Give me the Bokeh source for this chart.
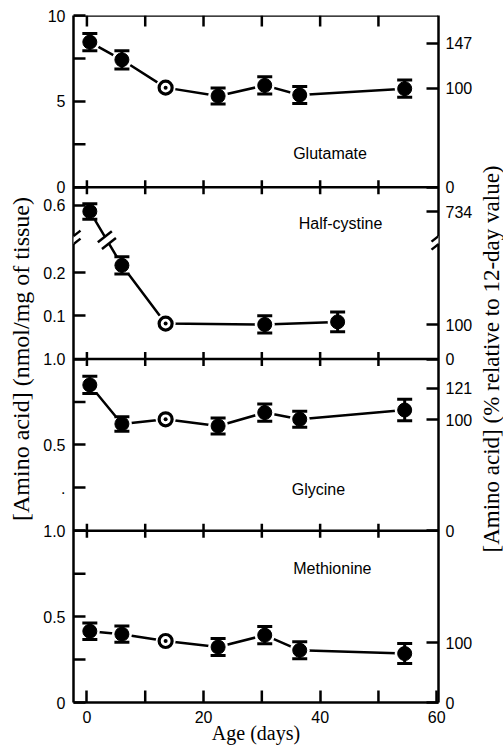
import math
from bokeh.plotting import figure
from bokeh.layouts import row
from bokeh.models import Range1d, LinearAxis, FixedTicker, Span, Label, PolyAnnotation
from bokeh.embed import file_html
from bokeh.resources import INLINE

# ---------------- data ----------------
AGE_DAYS = [0.5, 6, 13.5, 22.5, 30.5, 36.5, 54.5]
CYS_DAYS = [0.5, 6, 13.5, 30.5, 43]

GLU = [8.45, 7.42, 5.80, 5.31, 5.93, 5.37, 5.74]
GLU_ERR = [0.50, 0.53, 0.0, 0.47, 0.50, 0.50, 0.50]
CYS = [0.586, 0.217, 0.082, 0.080, 0.086]
CYS_ERR = [0.018, 0.020, 0.0, 0.020, 0.023]
GLY = [0.849, 0.622, 0.649, 0.610, 0.688, 0.649, 0.703]
GLY_ERR = [0.050, 0.042, 0.0, 0.047, 0.050, 0.047, 0.062]
MET = [0.415, 0.398, 0.358, 0.323, 0.392, 0.304, 0.285]
MET_ERR = [0.048, 0.047, 0.0, 0.049, 0.050, 0.049, 0.058]
REF_INDEX = 2  # 12-day reference value (open symbol)

NAMES = ["Glutamate", "Half-cystine", "Glycine", "Methionine"]

# labelled ticks (value, text) and unlabelled tick marks per panel
LEFT_TICKS = {
    "Glutamate": ([0, 5, 10], ["0", "5", "10"]),
    "Half-cystine": ([0.1, 0.2, 0.6], ["0.1", "0.2", "0.6"]),
    "Glycine": ([0.25, 0.5, 1.0], [".", "0.5", "1.0"]),
    "Methionine": ([0, 0.5, 1.0], ["0", "0.5", "1.0"]),
}
LEFT_MINOR = {
    "Glutamate": [2.5, 7.5],
    "Half-cystine": [],
    "Glycine": [0.75],
    "Methionine": [0.25, 0.75],
}
RIGHT_TICKS = {
    "Glutamate": ([0, 5.76, 8.37], ["0", "100", "147"]),
    "Half-cystine": ([0, 0.079, 0.585], ["0", "100", "734"]),
    "Glycine": ([0, 0.645, 0.83], ["0", "100", "121"]),
    "Methionine": ([0, 0.349], ["0", "100"]),
}
X_TICKS = [0, 20, 40, 60]
X_LABELS = ["0", "20", "40", "60"]
X_MINOR = [10, 30, 50]

LEFT_TITLE = "[Amino acid] (nmol/mg of tissue)"
RIGHT_TITLE = "[Amino acid] (% relative to 12-day value)"
X_TITLE = "Age (days)"

# ---------------- panel scales ----------------
PANEL_BASE = {"Glutamate": 3, "Half-cystine": 2, "Glycine": 1, "Methionine": 0}
PANEL_SPAN = {"Glutamate": 10.0, "Half-cystine": 0.398, "Glycine": 1.0, "Methionine": 1.0}
CYS_BREAK = 0.2755   # where the half-cystine axis is broken (lower scale)
CYS_SHIFT = 0.244    # amount cut out of the half-cystine axis above the break

X0, X1 = -2.3, 60.3
FRAME_W, FRAME_H = 365, 687
PX_X = FRAME_W / (X1 - X0)
PX_Y = FRAME_H / 4.0


def to_disp(name, v):
    if name == "Half-cystine" and v > 0.3:
        v = v - CYS_SHIFT
    return PANEL_BASE[name] + v / PANEL_SPAN[name]


def r6(v):
    return round(v, 6)


SERIES = {
    "Glutamate": (AGE_DAYS, GLU, GLU_ERR),
    "Half-cystine": (CYS_DAYS, CYS, CYS_ERR),
    "Glycine": (AGE_DAYS, GLY, GLY_ERR),
    "Methionine": (AGE_DAYS, MET, MET_ERR),
}
LABEL_POS = {
    "Glutamate": (41.7, 3.198),
    "Half-cystine": (43.5, 2.79),
    "Glycine": (39.7, 1.238),
    "Methionine": (42.1, 0.778),
}

p = figure(frame_width=FRAME_W, frame_height=FRAME_H, x_range=Range1d(X0, X1), y_range=Range1d(0, 4),
           output_backend="svg", toolbar_location=None,
           min_border_left=73, min_border_right=35, min_border_top=15, min_border_bottom=48)
p.grid.visible = False
p.outline_line_color = None
p.background_fill_color = "white"

TICK_FONT = "Liberation Sans"
TITLE_FONT = "Liberation Serif"
TICK_SIZE = "16px"


def style_axis(ax, tin):
    ax.axis_line_width = 2.5
    ax.axis_line_color = "black"
    ax.major_tick_line_width = 2.5
    ax.major_tick_line_color = "black"
    ax.major_tick_in = tin
    ax.major_tick_out = 0
    ax.minor_tick_line_color = None
    ax.major_label_text_font = TICK_FONT
    ax.major_label_text_font_size = TICK_SIZE
    ax.major_label_text_color = "black"
    ax.axis_label_text_font = TITLE_FONT
    ax.axis_label_text_font_style = "normal"
    ax.axis_label_text_color = "black"


# left axis
lt, lo = [], {}
for n in NAMES:
    vals, labs = LEFT_TICKS[n]
    for v, s in zip(vals, labs):
        d = r6(to_disp(n, v))
        if d not in lo:
            lt.append(d)
        lo[d] = s
yax = p.yaxis[0]
style_axis(yax, 12)
yax.ticker = FixedTicker(ticks=lt)
yax.major_label_overrides = lo
yax.major_label_standoff = 8
yax.axis_label = LEFT_TITLE
yax.axis_label_text_font_size = "24px"
yax.axis_label_standoff = 6

# right axis (ticks in % of the 12-day value)
rt, ro = [], {}
for n in NAMES:
    vals, labs = RIGHT_TICKS[n]
    for v, s in zip(vals, labs):
        d = r6(to_disp(n, v))
        rt.append(d)
        ro[d] = s
rax = LinearAxis(ticker=FixedTicker(ticks=rt), major_label_overrides=ro)
style_axis(rax, 12)
rax.major_label_standoff = 7
p.add_layout(rax, "right")

# bottom axis
xax = p.xaxis[0]
style_axis(xax, 12)
xax.ticker = FixedTicker(ticks=X_TICKS)
xax.major_label_overrides = {t: s for t, s in zip(X_TICKS, X_LABELS)}
xax.major_label_standoff = 8
xax.axis_label = X_TITLE
xax.axis_label_text_font_size = "20px"
xax.axis_label_standoff = -4

# top frame line
p.add_layout(Span(location=4, dimension="width", line_color="black", line_width=2.5))

# unlabelled tick marks (all point inwards)
tick_len = 12
for n in NAMES:
    ys = [to_disp(n, v) for v in LEFT_MINOR[n]]
    if ys:
        p.segment(x0=[X0] * len(ys), y0=ys, x1=[X0 + tick_len / PX_X] * len(ys), y1=ys,
                  line_color="black", line_width=2.5)
p.segment(x0=X_MINOR, y0=[0] * len(X_MINOR), x1=X_MINOR, y1=[tick_len / PX_Y] * len(X_MINOR),
          line_color="black", line_width=2.5)
top_ticks = [t for t in X_TICKS + X_MINOR if t < 60]
p.segment(x0=top_ticks, y0=[4] * len(top_ticks), x1=top_ticks, y1=[4 - 11 / PX_Y] * len(top_ticks),
          line_color="black", line_width=2.5)

# panel boundaries with crossing ticks
half = 7 / PX_Y
for b in [1, 2, 3]:
    p.add_layout(Span(location=b, dimension="width", line_color="black", line_width=2.5))
    p.segment(x0=top_ticks, y0=[b - half] * len(top_ticks), x1=top_ticks, y1=[b + half] * len(top_ticks),
              line_color="black", line_width=2.5)

# series
for n in NAMES:
    xs, vs, es = SERIES[n]
    ys = [to_disp(n, v) for v in vs]
    p.line(xs, ys, line_color="black", line_width=2.5)
    p.scatter(xs, ys, size=20, marker="circle", fill_color="white", line_color=None)
    fx = [x for i, x in enumerate(xs) if i != REF_INDEX]
    lo_ = [to_disp(n, v - e) for i, (v, e) in enumerate(zip(vs, es)) if i != REF_INDEX]
    hi_ = [to_disp(n, v + e) for i, (v, e) in enumerate(zip(vs, es)) if i != REF_INDEX]
    fy = [y for i, y in enumerate(ys) if i != REF_INDEX]
    p.segment(x0=fx, y0=lo_, x1=fx, y1=hi_, line_color="black", line_width=3)
    p.scatter(fx + fx, lo_ + hi_, marker="dash", size=15, line_color="black", line_width=3)
    p.scatter(fx, fy, marker="circle", size=14, fill_color="black", line_color="black")
    p.scatter([xs[REF_INDEX]], [ys[REF_INDEX]], marker="circle", size=13,
              fill_color="white", line_color="black", line_width=3.2)
    p.scatter([xs[REF_INDEX]], [ys[REF_INDEX]], marker="circle", size=4,
              fill_color="black", line_color=None)
    lx, ly = LABEL_POS[n]
    p.add_layout(Label(x=lx, y=ly, text=n, text_align="center", text_baseline="middle",
                       text_font=TICK_FONT, text_font_size="16px", text_color="black"))

# axis break marks for half-cystine
yb = PANEL_BASE["Half-cystine"] + CYS_BREAK / PANEL_SPAN["Half-cystine"]


def slash(cx, cy):
    return ([cx - 7 / PX_X, cx + 7 / PX_X], [cy - 5.5 / PX_Y, cy + 5.5 / PX_Y])


for ax_x in [X0, X1]:
    g = 4
    p.add_layout(PolyAnnotation(xs=[ax_x - 3 / PX_X, ax_x + 3 / PX_X, ax_x + 3 / PX_X, ax_x - 3 / PX_X],
                                ys=[yb - g / PX_Y, yb - g / PX_Y, yb + g / PX_Y, yb + g / PX_Y],
                                fill_color="white", fill_alpha=1, line_color=None))
    for off in [-g, g]:
        sx, sy = slash(ax_x, yb + off / PX_Y)
        p.add_layout(PolyAnnotation(xs=sx, ys=sy, fill_alpha=0, line_color="black",
                                    line_alpha=1, line_width=2.5))

# break on the half-cystine data line
cx0, cx1 = CYS_DAYS[0], CYS_DAYS[1]
cy0, cy1 = to_disp("Half-cystine", CYS[0]), to_disp("Half-cystine", CYS[1])
t = (cy0 - yb) / (cy0 - cy1)
bx = cx0 + t * (cx1 - cx0)
dxp, dyp = (cx1 - cx0) * PX_X, (cy1 - cy0) * PX_Y
ln = math.hypot(dxp, dyp)
ux, uy = dxp / ln, dyp / ln
gx, gy = 4 * ux / PX_X, 4 * uy / PX_Y
p.segment(x0=[bx - gx], y0=[yb - gy], x1=[bx + gx], y1=[yb + gy], line_color="white", line_width=6)
for sgn in [-1, 1]:
    sx, sy = slash(bx + sgn * gx, yb + sgn * gy)
    p.line(sx, sy, line_color="black", line_width=2.5)

# narrow companion figure that carries the right-hand title (reads bottom to top)
p2 = figure(width=29, height=750, x_range=Range1d(0, 1), y_range=Range1d(0, 1),
            output_backend="svg", toolbar_location=None,
            min_border_left=28, min_border_right=0, min_border_top=2, min_border_bottom=0)
p2.grid.visible = False
p2.outline_line_color = None
p2.xaxis.visible = False
p2.background_fill_color = None
p2.border_fill_color = "white"
ax2 = p2.yaxis[0]
ax2.ticker = FixedTicker(ticks=[])
ax2.axis_line_color = None
ax2.major_tick_line_color = None
ax2.minor_tick_line_color = None
ax2.axis_label = RIGHT_TITLE
ax2.axis_label_text_font = TITLE_FONT
ax2.axis_label_text_font_style = "normal"
ax2.axis_label_text_font_size = "23px"
ax2.axis_label_text_color = "black"
ax2.axis_label_standoff = 0
p2.scatter([0.5], [0.5], size=0, alpha=0)

layout = row(p, p2)
open("out.html", "w").write(file_html(layout, INLINE))
